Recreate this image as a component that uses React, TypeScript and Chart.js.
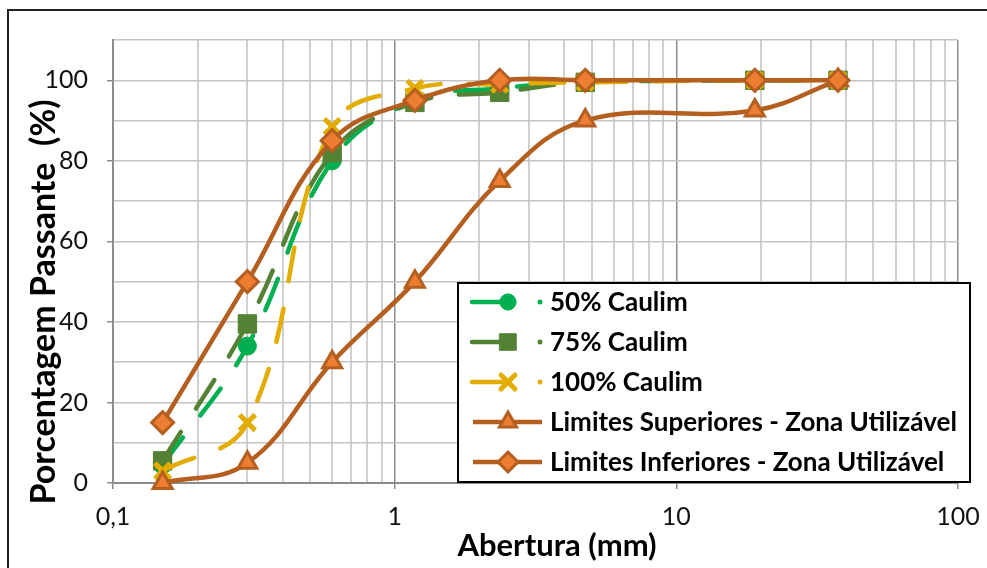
import React, { useEffect, useRef } from 'react';
import { Chart, registerables } from 'chart.js';
import { drawPoint } from 'chart.js/helpers';

Chart.register(...registerables);

// ---- data ----
const sieveSizes = [0.15, 0.3, 0.6, 1.18, 2.36, 4.75, 19, 37.5];
const caulim50 = [4.5, 34, 80, 95, 98, 99.5, 100, 100];
const caulim75 = [5.5, 39.5, 82, 94.5, 97, 99.5, 100, 100];
const caulim100 = [3, 15, 88.5, 98, 99, 99.5, 100, 100];
const limSup = [0, 5, 30, 50, 75, 90, 92.5, 100];
const limInf = [15, 50, 85, 95, 100, 100, 100, 100];
const seriesLabels = [
  '50% Caulim',
  '75% Caulim',
  '100% Caulim',
  'Limites Superiores - Zona Utilizável',
  'Limites Inferiores - Zona Utilizável',
];
const xDecades = [0.1, 1, 10];
const xMax = 100;
const yLabelStep = 20;
const xTitle = 'Abertura (mm)';
const yTitle = 'Porcentagem Passante  (%)';

const FONT = 'Lato, "Open Sans", sans-serif';
const BROWN = '#B45F1F';
const ORANGE = '#ED7D31';

const isMajor = (v: number) => {
  const l = Math.log10(v);
  return Math.abs(l - Math.round(l)) < 1e-9;
};

const toPts = (ys: number[]) => sieveSizes.map((x, i) => ({ x, y: ys[i] }));

const styles = [
  { color: '#00B050', bg: '#00B050', pointStyle: 'circle', radius: 9, bw: 1, dashed: true },
  { color: '#548235', bg: '#548235', pointStyle: 'rect', radius: 13, bw: 1, dashed: true },
  { color: '#E3AC00', bg: '#E3AC00', pointStyle: 'crossRot', radius: 11, bw: 5, dashed: true },
  { color: BROWN, bg: ORANGE, pointStyle: 'triangle', radius: 11, bw: 3, dashed: false },
  { color: BROWN, bg: ORANGE, pointStyle: 'rectRot', radius: 11, bw: 3, dashed: false },
];

const allSeries = [caulim50, caulim75, caulim100, limSup, limInf];

const decorPlugin = {
  id: 'decor',
  beforeDraw(chart: any) {
    const ctx = chart.ctx;
    ctx.save();
    ctx.fillStyle = '#fff';
    ctx.fillRect(0, 0, chart.width, chart.height);
    ctx.strokeStyle = '#222';
    ctx.lineWidth = 2;
    ctx.strokeRect(8, 10, chart.width + 10, chart.height + 10);
    ctx.restore();
  },
  afterDraw(chart: any) {
    const ctx = chart.ctx;
    ctx.save();
    // axis titles
    ctx.fillStyle = '#000';
    ctx.font = `bold 31px ${FONT}`;
    ctx.textAlign = 'center';
    ctx.textBaseline = 'middle';
    ctx.fillText(xTitle, 557, 546);
    ctx.font = `bold 34px ${FONT}`;
    ctx.translate(44, 302);
    ctx.rotate(-Math.PI / 2);
    ctx.fillText(yTitle, 0, 0);
    ctx.restore();

    // legend
    ctx.save();
    const lx = 458, ly = 283, lw = 512, lh = 199;
    ctx.fillStyle = '#fff';
    ctx.fillRect(lx, ly, lw, lh);
    ctx.strokeStyle = '#000';
    ctx.lineWidth = 2;
    ctx.strokeRect(lx, ly, lw, lh);
    chart.data.datasets.forEach((ds: any, i: number) => {
      const st = styles[i];
      const y = 302 + i * 40;
      ctx.strokeStyle = st.color;
      ctx.lineWidth = 4.5;
      ctx.lineCap = st.dashed ? 'round' : 'butt';
      ctx.beginPath();
      ctx.moveTo(st.dashed ? 472 : 473, y);
      ctx.lineTo(st.dashed ? 506 : 542, y);
      ctx.stroke();
      ctx.fillStyle = st.bg;
      ctx.strokeStyle = st.color;
      ctx.lineWidth = st.bw;
      drawPoint(ctx, { pointStyle: st.pointStyle, radius: st.radius * 0.9, rotation: 0, borderWidth: st.bw }, 508, y);
      if (st.dashed) {
        ctx.fillStyle = st.color;
        ctx.beginPath();
        ctx.arc(540, y, 2.5, 0, Math.PI * 2);
        ctx.fill();
      }
      ctx.fillStyle = '#000';
      ctx.font = `bold 26px ${FONT}`;
      ctx.textAlign = 'left';
      ctx.textBaseline = 'middle';
      ctx.fillText(ds.label, 550, y + 1);
    });
    ctx.restore();
  },
};

export default function App() {
  const ref = useRef<HTMLCanvasElement | null>(null);
  useEffect(() => {
    document.body.style.margin = '0';
    const canvas = ref.current!;
    const datasets = allSeries.map((ys, i) => {
      const st = styles[i];
      return {
        label: seriesLabels[i],
        data: toPts(ys),
        showLine: true,
        borderColor: st.color,
        backgroundColor: st.bg,
        borderWidth: 4.5,
        borderDash: st.dashed ? [34, 28] : [],
        borderCapStyle: st.dashed ? 'round' : 'butt',
        tension: 0.4,
        pointStyle: st.pointStyle,
        pointRadius: st.radius,
        pointBackgroundColor: st.bg,
        pointBorderColor: st.color,
        pointBorderWidth: st.bw,
        order: st.dashed ? 5 - i : 0 + (4 - i),
        clip: false,
      };
    });
    const chart = new Chart(canvas, {
      type: 'scatter',
      data: { datasets: datasets as any },
      options: {
        responsive: false,
        animation: false,
        layout: { padding: { left: 0, top: 40, right: 29, bottom: 0 } },
        plugins: { legend: { display: false }, tooltip: { enabled: false } },
        scales: {
          x: {
            type: 'logarithmic',
            min: 0.1,
            max: xMax,
            afterBuildTicks(scale: any) {
              const t: any[] = [];
              xDecades.forEach((d) => {
                for (let k = 1; k <= 9; k++) t.push({ value: +(k * d).toPrecision(3) });
              });
              t.push({ value: xMax });
              scale.ticks = t;
            },
            afterFit(scale: any) {
              scale.height = 85;
              scale.paddingLeft = 0;
              scale.paddingRight = 0;
            },
            ticks: {
              autoSkip: false,
              maxRotation: 0,
              padding: 13,
              color: '#111',
              font: { family: FONT, size: 25 },
              callback: (v: any) => (isMajor(Number(v)) ? String(v).replace('.', ',') : ''),
            },
            grid: {
              color: (c: any) => (c.tick && isMajor(c.tick.value) ? '#8C8C8C' : '#D0D0D0'),
              lineWidth: (c: any) => (c.tick && isMajor(c.tick.value) ? 1.5 : 2),
              tickLength: 6,
              tickColor: (c: any) => (c.tick && isMajor(c.tick.value) ? '#8C8C8C' : 'rgba(0,0,0,0)'),
            },
            border: { color: '#8C8C8C', width: 2 },
          },
          y: {
            min: 0,
            max: 110,
            afterFit(scale: any) {
              scale.width = 113;
              scale.paddingTop = 0;
              scale.paddingBottom = 0;
            },
            ticks: {
              stepSize: 10,
              padding: 19,
              color: '#111',
              font: { family: FONT, size: 25 },
              callback: (v: any) => (Number(v) % yLabelStep === 0 && Number(v) <= 100 ? String(v) : ''),
            },
            grid: {
              color: (c: any) => (c.tick && c.tick.value === 0 ? '#8C8C8C' : '#C4C4C4'),
              lineWidth: 1.5,
              tickLength: 6,
              tickColor: (c: any) => (c.tick && c.tick.value % yLabelStep === 0 && c.tick.value <= 100 ? '#8C8C8C' : 'rgba(0,0,0,0)'),
            },
            border: { color: '#8C8C8C', width: 2 },
          },
        },
      },
      plugins: [decorPlugin],
    });
    return () => chart.destroy();
  }, []);
  return (
    <div style={{ width: 987, height: 568, position: 'relative' }}>
      <canvas ref={ref} width={987} height={568} style={{ display: 'block' }} />
    </div>
  );
}
